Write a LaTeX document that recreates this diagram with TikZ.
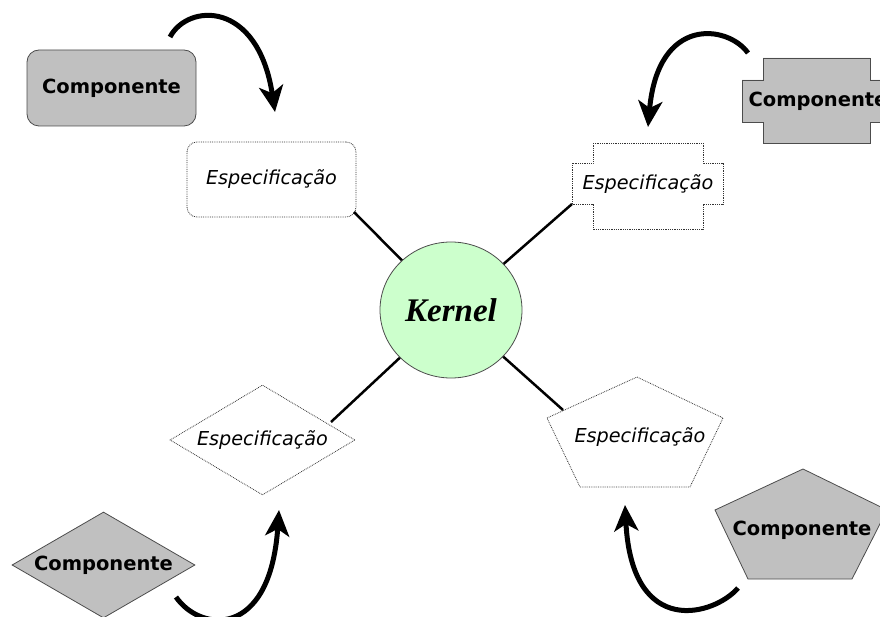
\documentclass[tikz,border=0pt]{standalone}
\usepackage{fontspec}
\setsansfont{DejaVu Sans}
\newfontfamily\kernelfont{Liberation Serif}
\usetikzlibrary{shapes.geometric,arrows.meta}
\definecolor{compgray}{HTML}{C0C0C0}
\definecolor{kerngreen}{HTML}{CCFFCC}
\begin{document}
\begin{tikzpicture}[x=1pt, y=-1pt,
  comp/.style = {draw=black!70, fill=compgray, line width=0.8pt, inner sep=0pt},
  spec/.style = {draw=black!80, densely dotted, line width=0.8pt, inner sep=0pt},
  comptext/.style = {font=\sffamily\bfseries\fontsize{19.5}{19.5}\selectfont},
  spectext/.style = {font=\sffamily\itshape\fontsize{19.2}{19.2}\selectfont},
  link/.style = {line width=2.5pt},
  turn/.style = {line width=5pt, -{Stealth[length=26pt, width=24pt, inset=7pt]}}]
\useasboundingbox (0,0) rectangle (880,617);
% kernel
\node[draw=black!70, fill=kerngreen, line width=0.8pt, ellipse, minimum width=142pt, minimum height=136pt,
  font=\kernelfont\bfseries\itshape\fontsize{33}{33}\selectfont] (kernel) at (451,310) {Kernel};
% top left: rounded boxes
\node[comp, comptext, rounded corners=12pt, minimum width=169pt, minimum height=76pt] (c1) at (111.5,88) {Componente};
\node[spec, spectext, rounded corners=10pt, minimum width=169pt, minimum height=75pt] (s1) at (271.5,179.5) {Especificação};
% top right: crosses
\draw[comp] (763,58) -- (870,58) -- (870,80) -- (891,80) -- (891,122) -- (870,122) -- (870,143)
  -- (763,143) -- (763,122) -- (742,122) -- (742,80) -- (763,80) -- cycle;
\node[comptext] (c2) at (818,101) {Componente};
\draw[spec] (593,143) -- (703,143) -- (703,163) -- (723,163) -- (723,204) -- (703,204) -- (703,229)
  -- (593,229) -- (593,204) -- (572,204) -- (572,163) -- (593,163) -- cycle;
\node[spectext] (s2) at (648,184) {Especificação};
% bottom left: diamonds
\node[comp, comptext, diamond, aspect=1.73, minimum width=183pt, minimum height=106pt] (c3) at (103.5,565) {Componente};
\node[spec, spectext, diamond, aspect=1.68, minimum width=185pt, minimum height=110pt] (s3) at (262.5,440) {Especificação};
% bottom right: pentagons
\draw[comp] (715,510) -- (803,469) -- (887,510) -- (852,579) -- (748,579) -- cycle;
\node[comptext] (c4) at (802,530) {Componente};
\draw[spec] (547,418) -- (637,377) -- (723,418) -- (690,487) -- (580,487) -- cycle;
\node[spectext] (s4) at (640,437) {Especificação};
% link ends
\coordinate (e1) at (354,212);
\coordinate (e2) at (572,204);
\coordinate (e3) at (331,422);
\coordinate (e4) at (563,410);
\draw[link] (kernel) -- (e1);
\draw[link] (kernel) -- (e2);
\draw[link] (kernel) -- (e3);
\draw[link] (kernel) -- (e4);
% curved arrows
\coordinate (a1) at (170,37);
\coordinate (b1) at (275,112);
\coordinate (a2) at (748,53);
\coordinate (b2) at (648,127);
\coordinate (a3) at (176,597);
\coordinate (b3) at (279,510);
\coordinate (a4) at (738,588);
\coordinate (b4) at (625,505);
\draw[turn] (a1) .. controls (188,3) and (258,0) .. (b1);
\draw[turn] (a2) .. controls (728,25) and (658,15) .. (b2);
\draw[turn] (a3) .. controls (200,632) and (270,640) .. (b3);
\draw[turn] (a4) .. controls (715,615) and (632,640) .. (b4);
\end{tikzpicture}
\end{document}
